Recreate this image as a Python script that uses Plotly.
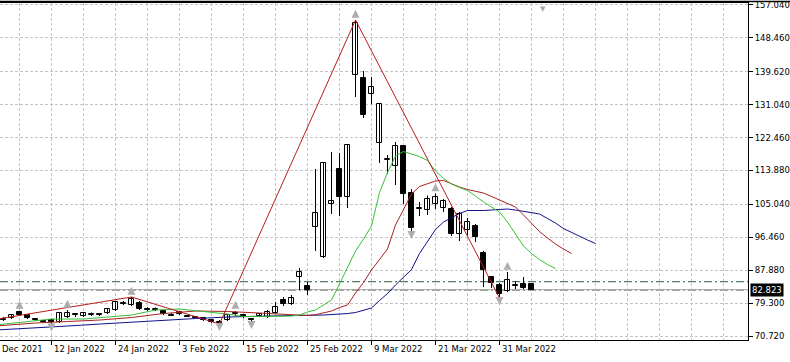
import plotly.graph_objects as go

# ---------------- data ----------------
dates = ["2022-01-04", "2022-01-05", "2022-01-06", "2022-01-07", "2022-01-10", "2022-01-11", "2022-01-12",
         "2022-01-13", "2022-01-14", "2022-01-17", "2022-01-18", "2022-01-19", "2022-01-20", "2022-01-21",
         "2022-01-24", "2022-01-25", "2022-01-26", "2022-01-27", "2022-01-28", "2022-01-31", "2022-02-01",
         "2022-02-02", "2022-02-03", "2022-02-04", "2022-02-07", "2022-02-08", "2022-02-09", "2022-02-10",
         "2022-02-11", "2022-02-14", "2022-02-15", "2022-02-16", "2022-02-17", "2022-02-18", "2022-02-21",
         "2022-02-22", "2022-02-23", "2022-02-24", "2022-02-25", "2022-02-28", "2022-03-01", "2022-03-02",
         "2022-03-03", "2022-03-04", "2022-03-07", "2022-03-08", "2022-03-09", "2022-03-10", "2022-03-11",
         "2022-03-14", "2022-03-15", "2022-03-16", "2022-03-17", "2022-03-18", "2022-03-21", "2022-03-22",
         "2022-03-23", "2022-03-24", "2022-03-25", "2022-03-28", "2022-03-29", "2022-03-30", "2022-03-31",
         "2022-04-01", "2022-04-04", "2022-04-05", "2022-04-06"]

opens = [75.15, 75.41, 76.98, 76.19, 75.15, 74.63, 74.89, 74.37, 75.67, 76.19,
         75.93, 76.32, 76.45, 76.71, 77.50, 79.33, 78.80, 79.33, 77.76, 77.50,
         77.24, 76.32, 76.98, 76.06, 75.80, 75.41, 74.89, 74.50, 74.89, 76.58,
         76.19, 75.15, 75.93, 75.67, 76.71, 80.11, 79.06, 86.11, 83.76, 99.14,
         91.32, 105.14, 114.27, 106.97, 138.79, 138.00, 133.83, 121.05, 116.62, 115.05,
         120.27, 108.01, 103.97, 103.58, 105.14, 104.10, 103.84, 97.32, 98.36, 99.40,
         92.36, 86.11, 84.02, 82.45, 83.89, 84.28, 84.28]
highs = [75.67, 76.45, 77.24, 76.45, 75.41, 74.89, 75.15, 76.98, 77.50, 76.71,
         76.98, 76.85, 76.71, 78.02, 79.85, 79.85, 80.89, 79.85, 78.28, 78.15,
         77.50, 76.71, 77.24, 76.19, 75.93, 75.67, 75.15, 74.89, 76.45, 77.24,
         76.45, 75.41, 76.71, 77.50, 79.59, 80.89, 81.41, 88.45, 84.80, 114.27,
         116.09, 118.70, 118.44, 120.79, 153.13, 139.83, 138.26, 131.48, 117.92, 121.32,
         120.53, 109.05, 105.66, 107.36, 107.88, 106.45, 104.36, 103.06, 101.49, 99.93,
         92.88, 86.37, 84.54, 87.41, 85.06, 86.11, 84.54]
lows = [74.63, 75.15, 75.93, 75.15, 74.63, 74.24, 73.72, 74.11, 75.41, 75.67,
        75.67, 75.93, 75.93, 76.45, 77.24, 78.80, 78.54, 77.50, 77.24, 77.24,
        76.19, 75.93, 76.19, 75.67, 75.41, 74.63, 74.11, 73.85, 74.63, 75.93,
        75.41, 74.37, 75.67, 75.41, 76.45, 78.54, 78.80, 82.71, 81.41, 92.88,
        91.06, 102.53, 102.01, 104.10, 133.05, 127.57, 131.22, 115.83, 112.97, 110.10,
        105.14, 97.84, 102.01, 102.27, 103.84, 103.06, 96.80, 95.49, 97.06, 95.23,
        83.50, 83.24, 80.63, 82.19, 82.98, 82.98, 82.71]
closes = [74.89, 76.19, 76.19, 75.41, 74.89, 74.37, 74.37, 76.71, 76.71, 76.45,
          76.71, 76.58, 76.19, 77.76, 79.59, 79.06, 80.37, 77.76, 77.50, 77.76,
          76.45, 76.06, 76.45, 75.80, 75.54, 74.89, 74.37, 74.11, 76.19, 76.85,
          75.67, 74.89, 76.45, 76.98, 78.28, 79.06, 80.63, 87.41, 82.71, 102.79,
          115.83, 105.92, 106.97, 120.53, 152.35, 128.35, 135.65, 131.22, 116.88, 120.27,
          107.75, 98.88, 104.23, 106.45, 106.97, 105.92, 97.32, 102.53, 100.45, 96.54,
          87.93, 84.54, 81.67, 85.32, 84.15, 83.24, 82.823]

# Alligator (shifted lines, bar index -> price)
lips_idx = [-1, 3, 6, 10, 13, 16, 19, 22, 25, 28, 30, 33, 36, 37, 38, 39, 40, 41, 42, 43, 44, 45, 46,
            47, 48, 49, 50, 51, 52, 53, 54, 55, 56, 57, 58, 59, 60, 61, 62, 63, 64, 65, 66, 67, 68, 69]
lips_val = [73.58, 74.37, 75.15, 75.15, 75.67, 76.19, 77.50, 77.76, 77.11, 76.45, 75.80, 75.80, 75.93,
            76.19, 76.98, 77.50, 78.80, 80.11, 84.28, 88.45, 92.89, 96.02, 99.41, 108.14, 113.36, 117.66,
            118.83, 118.18, 117.53, 116.48, 113.75, 111.79, 110.36, 109.45, 108.66, 107.23, 105.66,
            104.36, 103.06, 100.45, 97.32, 94.19, 92.23, 90.67, 89.36, 88.32]
teeth_idx = [-1, 4, 8, 12, 16, 20, 24, 28, 32, 36, 37, 38, 39, 40, 41, 42, 43, 44, 45, 46, 47, 48, 49,
             50, 51, 52, 53, 54, 55, 56, 57, 58, 59, 60, 61, 62, 63, 64, 65, 66, 67, 68, 69, 70, 71]
teeth_val = [73.32, 74.11, 74.50, 74.89, 75.54, 76.58, 77.24, 77.11, 76.71, 76.19, 76.06, 76.06, 76.27,
             76.71, 77.24, 78.15, 78.80, 81.93, 84.67, 87.93, 90.80, 93.41, 99.67, 103.84, 107.75,
             109.71, 110.49, 111.14, 111.27, 110.36, 109.58, 108.92, 108.53, 108.01, 107.10, 106.18,
             105.27, 104.36, 102.27, 100.19, 97.97, 96.28, 94.71, 93.41, 92.23]
jaw_idx = [-1, 4, 8, 12, 16, 20, 24, 28, 32, 36, 40, 42, 43, 44, 45, 46, 47, 48, 49, 50, 51, 52, 53,
           54, 55, 56, 57, 58, 60, 62, 63, 64, 65, 66, 67, 68, 69, 70, 71, 72, 73, 74]
jaw_val = [72.28, 72.80, 73.32, 73.84, 74.37, 74.89, 75.28, 75.67, 75.93, 76.06, 76.19, 76.32, 76.58,
           76.85, 77.50, 78.02, 79.97, 81.80, 84.02, 85.97, 88.06, 92.23, 95.49, 98.49, 100.45, 101.62,
           102.67, 103.45, 103.45, 103.71, 103.84, 103.58, 103.19, 102.93, 102.54, 101.36, 100.19,
           98.75, 97.71, 96.67, 95.75, 94.84]

# ZigZag pivots and fractals
zz_idx = [-3, 16, 27, 44, 62]
zz_val = [74.37, 80.89, 73.85, 153.13, 80.63]
fractal_up = [2, 8, 16, 29, 44, 54, 63]
fractal_down = [6, 27, 31, 51, 62]

# levels
level_lines = [84.88, 82.71]
last_price = 82.823

# axis labels (the first one is cut by the left edge in the original: "Dec 2021")
date_label_idx = [-2, 6, 14, 22, 30, 38, 46, 54, 62]
date_label_text = ["Dec 2021", "12 Jan 2022", "24 Jan 2022", "3 Feb 2022", "15 Feb 2022",
                   "25 Feb 2022", "9 Mar 2022", "21 Mar 2022", "31 Mar 2022"]
price_ticks = [157.04, 148.46, 139.62, 131.04, 122.46, 113.88, 105.04, 96.46, 87.88, 79.30, 70.72]
price_tick_text = ["%.3f" % v for v in price_ticks]

# ---------------- figure ----------------
FONT = "DejaVu Sans"
GRID = "#c4c4c4"
X0, X1 = -0.4375, 93.0625
n = len(opens)
idx = list(range(n))

fig = go.Figure()

wx, wy = [], []
for i in idx:
    wx += [i, i, None]
    wy += [lows[i], highs[i], None]
fig.add_trace(go.Scatter(x=wx, y=wy, mode="lines", line=dict(color="black", width=1),
                         hoverinfo="skip"))

base = [min(o, c) for o, c in zip(opens, closes)]
height = [abs(c - o) for o, c in zip(opens, closes)]
fill = ["white" if c >= o else "black" for o, c in zip(opens, closes)]
fig.add_trace(go.Bar(x=idx, y=height, base=base, width=0.62, hovertext=dates, hoverinfo="text",
                     marker=dict(color=fill, line=dict(color="black", width=1))))

fig.add_trace(go.Scatter(x=jaw_idx, y=jaw_val, mode="lines", line=dict(color="#10108a", width=1)))
fig.add_trace(go.Scatter(x=teeth_idx, y=teeth_val, mode="lines", line=dict(color="#a82222", width=1)))
fig.add_trace(go.Scatter(x=lips_idx, y=lips_val, mode="lines", line=dict(color="#38c038", width=1)))
fig.add_trace(go.Scatter(x=zz_idx, y=zz_val, mode="lines", line=dict(color="#b81c1c", width=1)))

fig.add_trace(go.Scatter(x=fractal_up, y=[highs[i] + 2.7 for i in fractal_up], mode="markers",
                         marker=dict(symbol="arrow-up", size=8, color="#adadad",
                                     line=dict(width=0))))
fig.add_trace(go.Scatter(x=fractal_down, y=[lows[i] - 1.8 for i in fractal_down], mode="markers",
                         marker=dict(symbol="arrow-down", size=8, color="#adadad",
                                     line=dict(width=0))))

shapes = []
for lv in level_lines:
    shapes.append(dict(type="line", xref="paper", x0=0, x1=1, yref="y", y0=lv, y1=lv, layer="below",
                       line=dict(color="#2f5a3c", width=1, dash="8px,3px,2px,3px")))
shapes.append(dict(type="line", xref="paper", x0=0, x1=1, yref="y", y0=last_price, y1=last_price,
                   layer="below", line=dict(color="#a8a8a8", width=1)))
shapes.append(dict(type="line", xref="paper", x0=0, x1=790 / 748, yref="paper", ysizemode="pixel",
                   yanchor=1, y0=1.5, y1=1.5, layer="below", line=dict(color="black", width=1.5)))

annotations = []
for k, t in zip(date_label_idx, date_label_text):
    if k >= X0:
        annotations.append(dict(x=k, xref="x", y=0, yref="paper", yanchor="top", xanchor="left",
                                yshift=-2, text=t, showarrow=False,
                                font=dict(family=FONT, size=8.5, color="black")))
    else:
        annotations.append(dict(x=0, xref="paper", y=0, yref="paper", yanchor="top", xanchor="left",
                                yshift=-2, text=t, showarrow=False,
                                font=dict(family=FONT, size=8.5, color="black")))
annotations.append(dict(x=1, xref="paper", xanchor="left", xshift=2, y=last_price, yref="y",
                        text="%.3f" % last_price, showarrow=False, bgcolor="black", borderpad=1,
                        font=dict(family=FONT, size=8.5, color="white")))
annotations.append(dict(x=67.4, xref="x", y=1, yref="paper", yanchor="top", text="▼",
                        showarrow=False, font=dict(size=7, color="#a8a8a8")))

fig.update_layout(
    width=790, height=362, margin=dict(l=0, r=42, t=3, b=22),
    paper_bgcolor="white", plot_bgcolor="white", showlegend=False, bargap=0,
    shapes=shapes, annotations=annotations,
    xaxis=dict(range=[X0, X1], tickmode="array", tickvals=[k for k in date_label_idx if k >= X0],
               showticklabels=False, ticks="outside", ticklen=4, tickcolor="black",
               showline=True, linecolor="black", linewidth=1, mirror=True, zeroline=False,
               showgrid=True, gridcolor=GRID, griddash="3px,2px",
               minor=dict(tickmode="array", tickvals=list(range(2, 93, 4)), showgrid=True,
                          gridcolor=GRID, griddash="3px,2px", ticks="")),
    yaxis=dict(side="right", range=[69.68, 157.56], tickmode="array", tickvals=price_ticks,
               ticktext=price_tick_text, ticks="outside", ticklen=4, tickcolor="black",
               ticklabeloverflow="allow",
               showline=True, linecolor="black", linewidth=1, zeroline=False,
               showgrid=True, gridcolor=GRID, griddash="3px,2px",
               tickfont=dict(family=FONT, size=8.5, color="black")),
    font=dict(family=FONT, size=8.5, color="black"),
)

fig.write_html("out.html")
